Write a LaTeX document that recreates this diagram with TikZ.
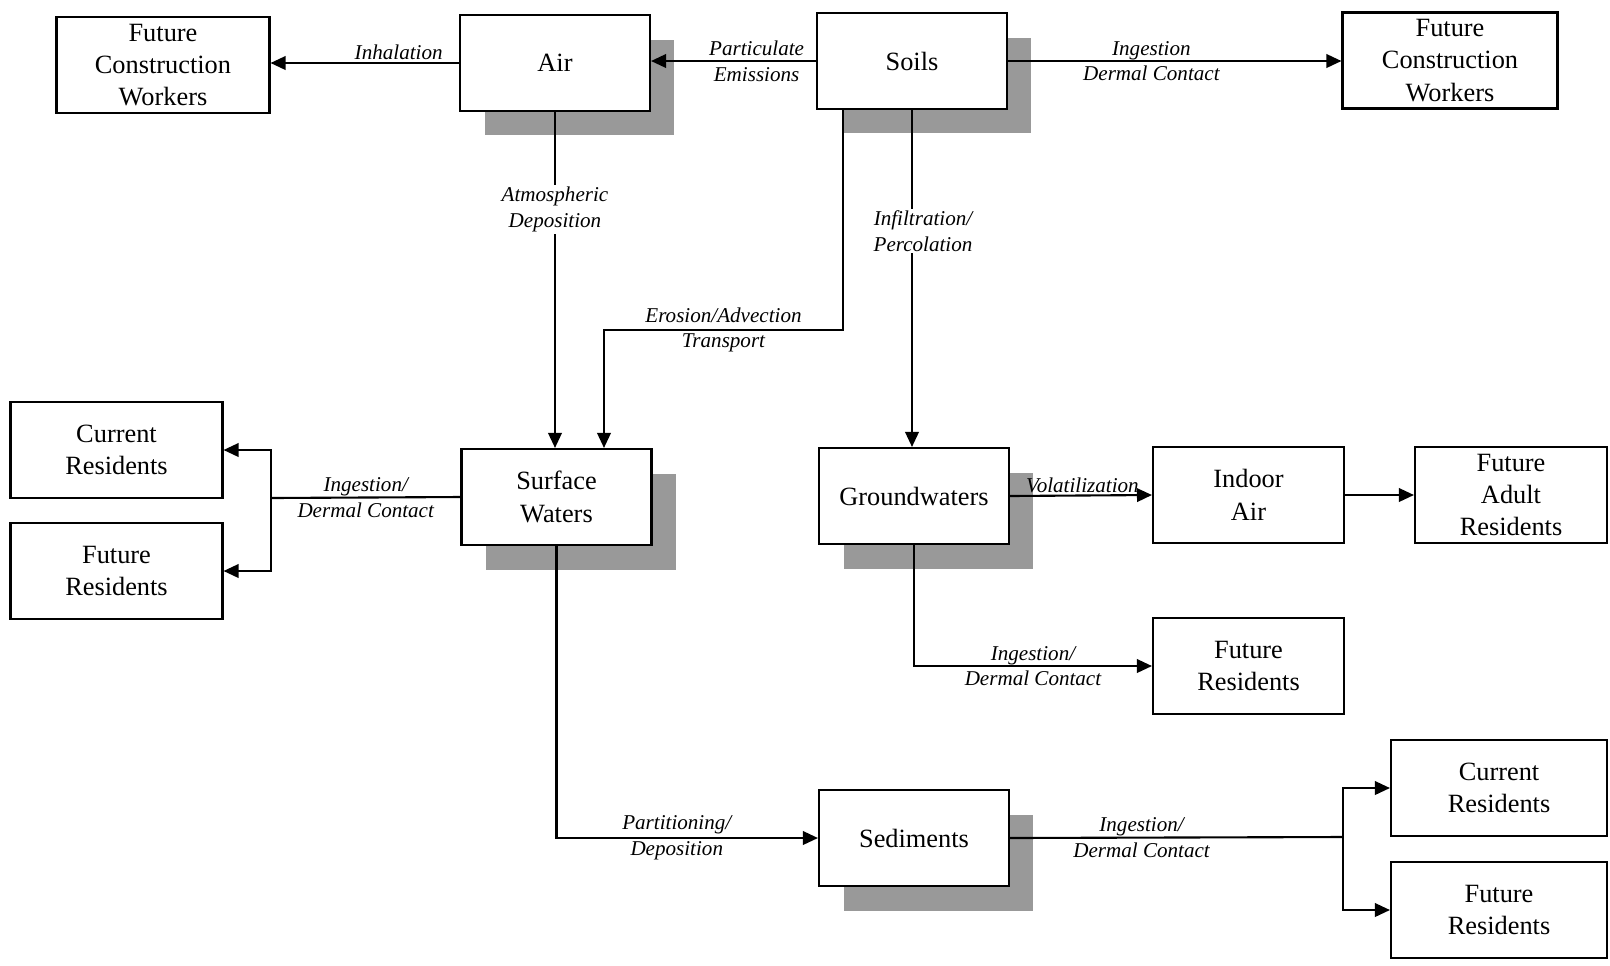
\documentclass[tikz,border=0pt]{standalone}
\usepackage{fontspec}
\setmainfont{Liberation Serif}
\usetikzlibrary{positioning, arrows.meta, shadows, calc}
\tikzset{
  media/.style   ={draw, line width=1.2pt, fill=white, align=center,
                   minimum width=3.8cm, minimum height=1.92cm,
                   inner sep=2pt, font=\fontsize{15}{18.4}\selectfont},
  mediash/.style ={media, drop shadow={shadow xshift=0.49cm,
                   shadow yshift=-0.49cm, fill=black!40, opacity=1}},
  recbox/.style  ={media, minimum width=4.26cm},
  flow/.style    ={-{Triangle[length=0.3cm, width=0.27cm]}, line width=1.2pt},
  link/.style    ={line width=1.2pt},
  pathlbl/.style ={align=center, inner sep=1pt,
                   font=\fontsize{12}{14.6}\selectfont\itshape},
}

\begin{document}
\begin{tikzpicture}[x=0.02cm, y=-0.02cm]
  \useasboundingbox (0,0) rectangle (1610,965);

  % ============================================================
  % MEDIA (shadowed boxes)
  % ============================================================
  \node[mediash] (air)    at (555,63)    {Air};
  \node[mediash] (soils)  at (912,61)    {Soils};
  \node[mediash] (surf)   at (556.5,497) {Surface\\Waters};
  \node[mediash] (ground) at (914,496)   {Groundwaters};
  \node[mediash] (sed)    at (914,838)   {Sediments};
  \node[media, minimum width=3.82cm] (indoor) at (1248.5,495) {Indoor\\Air};

  % ============================================================
  % RECEPTORS
  % ============================================================
  \node[recbox] (fcwL) at (163,65)    {Future\\Construction\\Workers};
  \node[recbox, minimum width=4.3cm] (fcwR) at (1450,60.5) {Future\\Construction\\Workers};
  \node[recbox, minimum width=4.24cm] (curL) at (116.5,450) {Current\\Residents};
  \node[recbox, minimum width=4.24cm] (futL) at (116.5,571) {Future\\Residents};
  \node[recbox, minimum width=3.84cm] (adult) at (1511,495) {Future\\Adult\\Residents};
  \node[recbox, minimum width=3.82cm] (futM) at (1248.5,666) {Future\\Residents};
  \node[recbox, minimum width=4.32cm] (curR) at (1499,788) {Current\\Residents};
  \node[recbox, minimum width=4.32cm] (futR) at (1499,910) {Future\\Residents};

  % --- split points ---
  \coordinate (swSplit) at (271,498);
  \coordinate (sdSplit) at (1343,837);
  \coordinate (erOut)   at ([xshift=-1.38cm]soils.south);
  \coordinate (erBend)  at ($(erOut)+(0,219.8)$);
  \coordinate (erIn)    at ([xshift=0.95cm]surf.north);

  % ============================================================
  % TRANSPORT PATHWAYS
  % ============================================================
  \draw[flow] (air.west) -- node[pathlbl, above, pos=0.32] (lInh) {Inhalation}
    (air.west -| fcwL.east);
  \draw[flow] (soils.west) -- node[pathlbl, pos=0.36] (lPart) {Particulate\\Emissions}
    (soils.west -| air.east);
  \draw[flow] (soils.east) -- node[pathlbl, pos=0.43] (lIngS) {Ingestion\\Dermal Contact}
    (soils.east -| fcwR.west);
  \draw[flow] (air.south) -- node[pathlbl, fill=white, pos=0.29] (lAtm) {Atmospheric\\Deposition}
    (air.south |- surf.north);
  \draw[flow] (erOut) -- (erBend) -| node[pathlbl, pos=0.25] (lEro) {Erosion/Advection\\Transport}
    (erIn);
  \draw[flow] (soils.south) -- node[pathlbl, fill=white, pos=0.36, xshift=0.22cm] (lInf)
    {Infiltration/\\Percolation} (soils.south |- ground.north);

  % --- surface waters ---
  \draw[link] (surf.west) -- node[pathlbl] (lIngW) {Ingestion/\\Dermal Contact} (swSplit);
  \draw[flow] (swSplit) |- (curL.east);
  \draw[flow] (swSplit) |- (futL.east);
  \draw[flow] (surf.south) |- node[pathlbl, pos=0.73] (lPar) {Partitioning/\\Deposition}
    (sed.west);

  % --- groundwaters ---
  \draw[flow] (ground.east) -- node[pathlbl, above, pos=0.51] (lVol) {Volatilization}
    (indoor.west);
  \draw[flow] (indoor.east) -- (adult.west);
  \draw[flow] (ground.south) |- node[pathlbl, pos=0.75] (lIngG) {Ingestion/\\Dermal Contact}
    (futM.west);

  % --- sediments ---
  \draw[link] (sed.east) -- node[pathlbl, pos=0.395] (lIngD) {Ingestion/\\Dermal Contact}
    (sdSplit);
  \draw[flow] (sdSplit) |- (curR.west);
  \draw[flow] (sdSplit) |- (futR.west);

\end{tikzpicture}
\end{document}
